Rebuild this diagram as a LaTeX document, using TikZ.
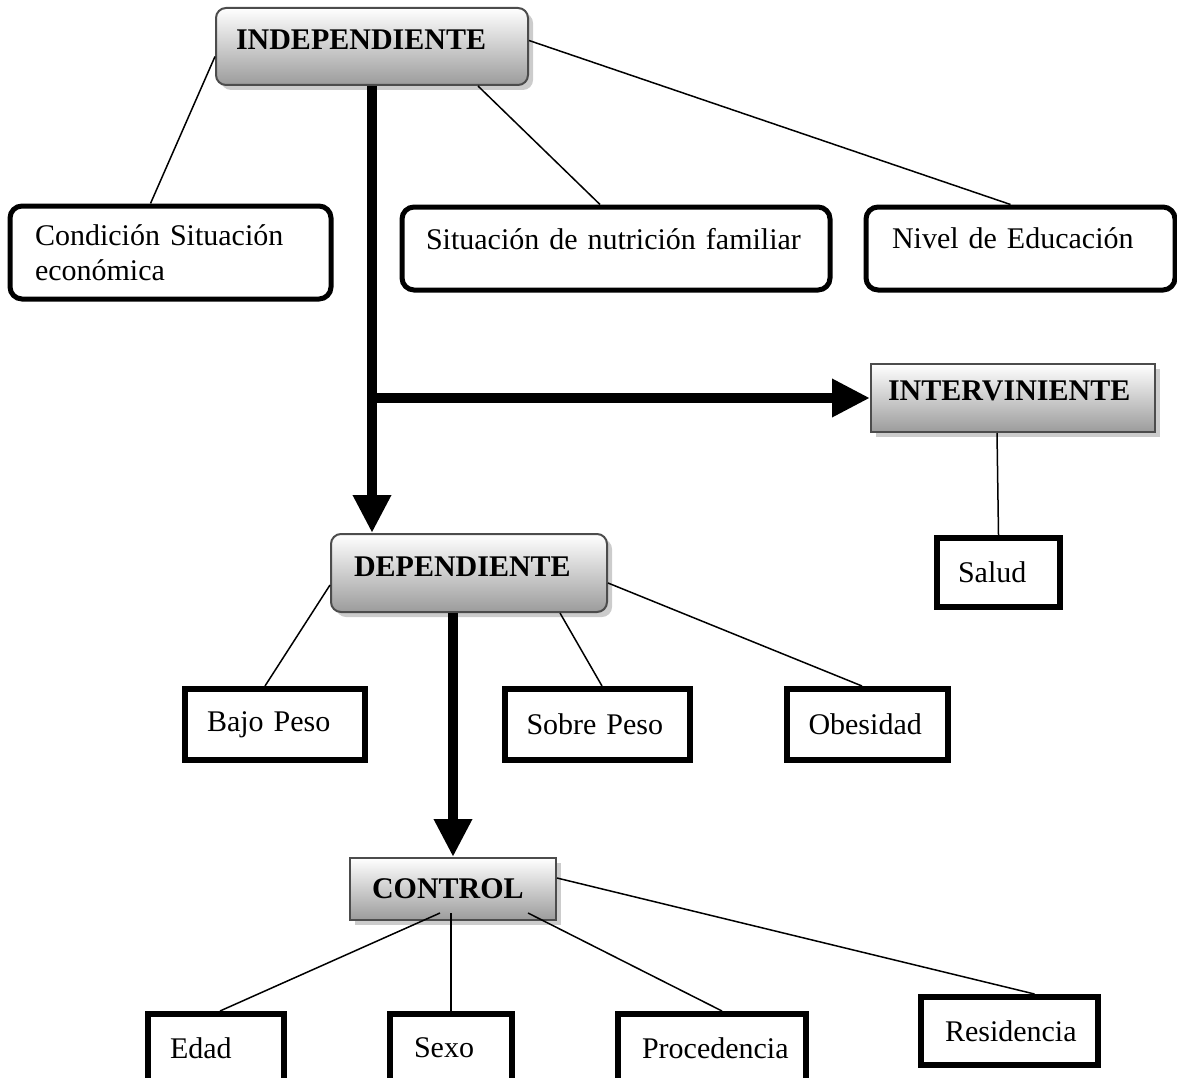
\documentclass[tikz,border=0pt]{standalone}
\usepackage{fontspec}
\setmainfont{Liberation Serif}
\usepackage{tikz}
\usetikzlibrary{arrows.meta,calc,positioning,shadows}

\begin{document}
\begin{tikzpicture}[x=1pt, y=-1pt, font=\fontsize{30}{35}\selectfont,
		varbox/.style={draw=gray!60!black, line width=2pt, top color=white, bottom color=gray!78,
			font=\fontsize{30}{35}\selectfont\bfseries, align=left,
			drop shadow={shadow xshift=5pt, shadow yshift=-5pt, fill=gray!40, opacity=1}},
		leafbox/.style={draw, line width=6pt, fill=white, align=left, inner ysep=0pt},
		roundleaf/.style={leafbox, line width=5pt, rounded corners=12pt},
		link/.style={line width=1.5pt},
		bigarrow/.style={line width=10pt, -{Triangle[length=38pt,width=36pt]}}]
		\useasboundingbox (0,0) rectangle (1177,1078);
		% Main variable boxes
		\node[varbox, rounded corners=10pt, minimum height=77pt, inner xsep=20pt, text width=272pt, text depth=14pt] (indep) at (372,46.5) {INDEPENDIENTE};
		\node[varbox, minimum height=68pt, inner xsep=17pt, text width=250pt, text depth=14pt] (interv) at (1013,398) {INTERVINIENTE};
		\node[varbox, rounded corners=10pt, minimum height=78pt, inner xsep=23pt, text width=230pt, text depth=12pt] (dep) at (469,573) {DEPENDIENTE};
		\node[varbox, minimum height=62pt, inner xsep=22pt, text width=162pt] (ctrl) at (453,889) {CONTROL};
		% Independent indicators
		\node[roundleaf, minimum height=93pt, inner xsep=25pt, text width=271pt] (cond) at (170.5,252.5) {Condición Situación\\económica};
		\node[roundleaf, minimum height=83pt, inner xsep=24pt, text width=380pt, text depth=20pt] (nutr) at (616,248.5) {Situación de nutrición familiar};
		\node[roundleaf, minimum height=83pt, inner xsep=26pt, text width=257pt, text depth=20pt] (nivel) at (1020.5,248.5) {Nivel de Educación};
		% Intervening indicator
		\node[leafbox, minimum height=69pt, inner xsep=21pt, text width=81pt] (salud) at (998.5,572.5) {Salud};
		% Dependent indicators
		\node[leafbox, minimum height=71pt, inner xsep=22pt, text width=136pt] (bajo) at (275,724.5) {Bajo Peso};
		\node[leafbox, minimum height=71pt, inner xsep=22pt, text width=141pt] (sobre) at (597,724.5) {Sobre Peso};
		\node[leafbox, minimum height=71pt, inner xsep=22pt, text width=117pt] (obes) at (867,724.5) {Obesidad};
		% Control indicators
		\node[leafbox, minimum height=68pt, inner xsep=22pt, text width=92pt] (edad) at (216,1048) {Edad};
		\node[leafbox, minimum height=68pt, inner xsep=24pt, text width=74pt] (sexo) at (451,1048) {Sexo};
		\node[leafbox, minimum height=68pt, inner xsep=24pt, text width=140pt] (proc) at (712,1048) {Procedencia};
		\node[leafbox, minimum height=68pt, inner xsep=24pt, text width=129pt] (resid) at (1009.5,1031) {Residencia};
		% Thin links
		\draw[link] ([yshift=-10pt]indep.west) -- ([xshift=-20pt]cond.north);
		\draw[link] ([xshift=106pt]indep.south) -- ([xshift=-16pt]nutr.north);
		\draw[link] ([yshift=6pt]indep.east) -- ([xshift=-10pt]nivel.north);
		\draw[link] ([xshift=-16pt]interv.south) -- (salud.north);
		\draw[link] ([yshift=-12pt]dep.west) -- ([xshift=-10pt]bajo.north);
		\draw[link] ([xshift=91pt]dep.south) -- ([xshift=5pt]sobre.north);
		\draw[link] ([yshift=-10pt]dep.east) -- ([xshift=-5pt]obes.north);
		\draw[link] ($(ctrl.south)+(-13,-8)$) -- ([xshift=4pt]edad.north);
		\draw[link] ($(ctrl.south -| sexo.north)+(0,-8)$) -- (sexo.north);
		\draw[link] ($(ctrl.south)+(75,-8)$) -- ([xshift=10pt]proc.north);
		\draw[link] ($(ctrl.east)+(0,-11)$) -- ([xshift=25pt]resid.north);
		% Thick arrows
		\coordinate (branch) at (indep.south |- interv.west);
		\draw[bigarrow] (indep.south) -- (indep.south |- dep.north);
		\draw[bigarrow] ([xshift=-5pt]branch) -- (interv.west);
		\draw[bigarrow] (ctrl.north |- dep.south) -- (ctrl.north);
	\end{tikzpicture}
\end{document}
